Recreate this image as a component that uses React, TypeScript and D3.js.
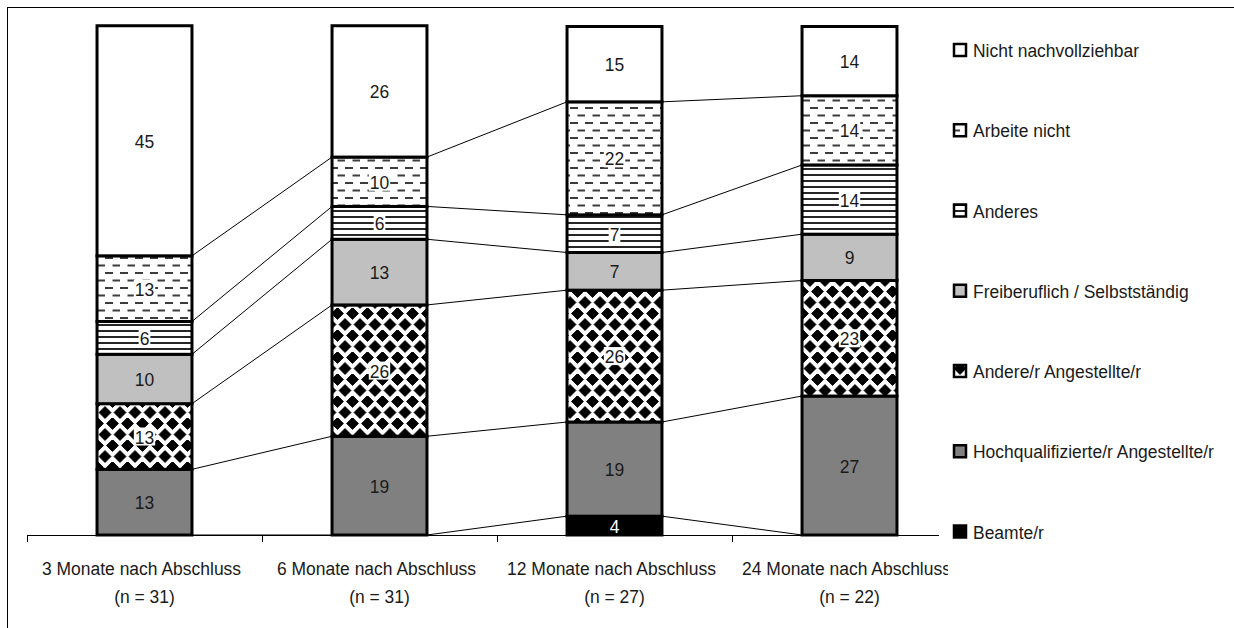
import { scaleBand, scaleLinear, stack, format } from 'd3';
import { useMemo } from 'react';

const WIDTH = 1234;
const HEIGHT = 628;
const FONT = "'Liberation Sans', Arial, sans-serif";
const FONT_SIZE = 19;
const NARROW = 0.92; // squeeze Liberation Sans towards Arial Narrow
const TEXT = '#1a1a1a';

// categories on the x axis
const categories = [
  '3 Monate nach Abschluss',
  '6 Monate nach Abschluss',
  '12 Monate nach Abschluss',
  '24 Monate nach Abschluss',
];
const sampleSizes = ['(n = 31)', '(n = 31)', '(n = 27)', '(n = 22)'];

// stack order, bottom to top
const seriesNames = [
  'Beamte/r',
  'Hochqualifizierte/r Angestellte/r',
  'Andere/r Angestellte/r',
  'Freiberuflich / Selbstständig',
  'Anderes',
  'Arbeite nicht',
  'Nicht nachvollziehbar',
];

// percent per category
const beamte = [0, 0, 3.7, 0];
const hochqualifiziert = [12.9, 19.4, 18.5, 27.3];
const andereAngestellte = [12.9, 25.8, 25.9, 22.7];
const freiberuflich = [9.7, 12.9, 7.4, 9.1];
const anderes = [6.45, 6.45, 7.4, 13.6];
const arbeiteNicht = [12.9, 9.7, 22.2, 13.6];
const nichtNachvollziehbar = [45.2, 25.8, 14.8, 13.6];

const seriesValues = [
  beamte,
  hochqualifiziert,
  andereAngestellte,
  freiberuflich,
  anderes,
  arbeiteNicht,
  nichtNachvollziehbar,
];

const fills: Record<string, string> = {
  'Beamte/r': '#000000',
  'Hochqualifizierte/r Angestellte/r': '#808080',
  'Andere/r Angestellte/r': 'url(#pat-diamond)',
  'Freiberuflich / Selbstständig': '#c0c0c0',
  Anderes: 'url(#pat-hlines)',
  'Arbeite nicht': 'url(#pat-dash)',
  'Nicht nachvollziehbar': '#ffffff',
};
const boxed = new Set(['Andere/r Angestellte/r', 'Anderes', 'Arbeite nicht']);

const fmt = format('.0f');

function NarrowText({ x, y, anchor = 'start', fill = TEXT, children }: any) {
  return (
    <text
      transform={`translate(${x},${y}) scale(${NARROW},1)`}
      textAnchor={anchor}
      fontSize={FONT_SIZE}
      fill={fill}
    >
      {children}
    </text>
  );
}

export default function App() {
  const x = scaleBand<string>()
    .domain(categories)
    .range([27, 967])
    .paddingInner(0.596)
    .paddingOuter(0.298);
  const y = scaleLinear().domain([0, 100]).range([535, 26]);
  const legendY = scaleLinear().domain([0, seriesNames.length - 1]).range([50, 531.5]);

  const rows = useMemo(
    () =>
      categories.map((c, i) => {
        const r: Record<string, any> = { category: c };
        seriesNames.forEach((s, k) => (r[s] = seriesValues[k][i]));
        return r;
      }),
    [],
  );
  const layers = stack<Record<string, any>>().keys(seriesNames)(rows);
  const bw = x.bandwidth();
  const step = x.step();
  const x0 = x.range()[0];

  return (
    <svg
      width={WIDTH}
      height={HEIGHT}
      style={{ position: 'absolute', left: 0, top: 0, background: '#fff' }}
      fontFamily={FONT}
    >
      <defs>
        <pattern id="pat-dash" width={15} height={15} patternUnits="userSpaceOnUse">
          <rect width={15} height={15} fill="#fff" />
          <rect x={0} y={2} width={8} height={2} fill="#3c3c3c" />
          <rect x={7.5} y={9.5} width={8} height={2} fill="#3c3c3c" />
        </pattern>
        <pattern id="pat-hlines" width={8} height={6} patternUnits="userSpaceOnUse">
          <rect width={8} height={6} fill="#fff" />
          <rect x={0} y={0} width={8} height={2} fill="#262626" />
        </pattern>
        <pattern id="pat-diamond" width={15} height={22} patternUnits="userSpaceOnUse">
          <rect width={15} height={22} fill="#fff" />
          <path
            d="M7.5,-0.5 L13.5,5.5 L7.5,11.5 L1.5,5.5 Z M0,10.5 L6,16.5 L0,22.5 L-6,16.5 Z M15,10.5 L21,16.5 L15,22.5 L9,16.5 Z M0,-11.5 L6,-5.5 L0,0.5 L-6,-5.5 Z M15,-11.5 L21,-5.5 L15,0.5 L9,-5.5 Z"
            fill="#000"
            stroke="#000"
            strokeWidth={0.8}
            strokeLinejoin="round"
          />
        </pattern>
        <clipPath id="label-clip">
          <rect x={0} y={0} width={948} height={HEIGHT} />
        </clipPath>
      </defs>

      {/* outer frame */}
      <rect x={7.5} y={7.5} width={1400} height={900} fill="none" stroke="#000" strokeWidth={1} />

      {/* series lines */}
      {layers.slice(0, -1).map(layer =>
        layer.slice(0, -1).map((d, i) => (
          <line
            key={`${layer.key}-${i}`}
            x1={(x(categories[i]) ?? 0) + bw}
            y1={y(d[1])}
            x2={x(categories[i + 1]) ?? 0}
            y2={y(layer[i + 1][1])}
            stroke="#000"
            strokeWidth={1}
          />
        )),
      )}

      {/* bars */}
      {layers.map(layer =>
        layer.map((d, i) =>
          d[1] - d[0] > 0 ? (
            <rect
              key={`${layer.key}-${i}`}
              x={x(categories[i])}
              y={y(d[1])}
              width={bw}
              height={y(d[0]) - y(d[1])}
              fill={fills[layer.key]}
              stroke="#000"
              strokeWidth={3}
            />
          ) : null,
        ),
      )}

      {/* value labels */}
      {layers.map(layer =>
        layer.map((d, i) => {
          const v = d[1] - d[0];
          if (v <= 0) return null;
          const label = fmt(v);
          const cx = (x(categories[i]) ?? 0) + bw / 2;
          const cy = (y(d[0]) + y(d[1])) / 2;
          const w = label.length * 9.7 + 2;
          return (
            <g key={`${layer.key}-${i}`}>
              {boxed.has(layer.key) && (
                <rect x={cx - w / 2} y={cy - 9} width={w} height={18} fill="#fff" />
              )}
              <NarrowText x={cx} y={cy + 7} anchor="middle" fill={layer.key === 'Beamte/r' ? '#fff' : TEXT}>
                {label}
              </NarrowText>
            </g>
          );
        }),
      )}

      {/* x axis */}
      <line x1={x0} x2={939} y1={535.5} y2={535.5} stroke="#000" strokeWidth={1} />
      {categories.map((c, i) => (
        <line key={c} x1={x0 + i * step + 0.5} x2={x0 + i * step + 0.5} y1={535} y2={542} stroke="#000" />
      ))}
      <g clipPath="url(#label-clip)">
        {categories.map((c, i) => {
          const cx = (x(c) ?? 0) + bw / 2;
          return (
            <g key={c}>
              <NarrowText x={cx - 3} y={575} anchor="middle">
                {c}
              </NarrowText>
              <NarrowText x={cx} y={603} anchor="middle">
                {sampleSizes[i]}
              </NarrowText>
            </g>
          );
        })}
      </g>

      {/* legend */}
      {[...seriesNames].reverse().map((s, i) => {
        const cy = legendY(i);
        return (
          <g key={s}>
            <rect
              x={954}
              y={cy - 6}
              width={12}
              height={12}
              fill={fills[s]}
              stroke="#000"
              strokeWidth={2.5}
            />
            <NarrowText x={973} y={cy + 7}>
              {s}
            </NarrowText>
          </g>
        );
      })}
    </svg>
  );
}
